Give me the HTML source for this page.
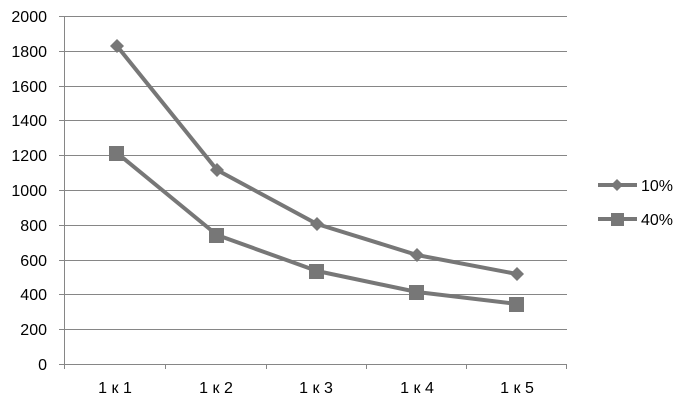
<!DOCTYPE html>
<html><head><style>body{margin:0;background:#fff}svg{display:block;font-family:"Liberation Sans",sans-serif}</style></head>
<body>
<svg width="685" height="403" viewBox="0 0 685 403">
<g stroke="#868686" stroke-width="1">
<line x1="59" y1="16.5" x2="567" y2="16.5"/>
<line x1="59" y1="51.5" x2="567" y2="51.5"/>
<line x1="59" y1="86.5" x2="567" y2="86.5"/>
<line x1="59" y1="120.5" x2="567" y2="120.5"/>
<line x1="59" y1="155.5" x2="567" y2="155.5"/>
<line x1="59" y1="190.5" x2="567" y2="190.5"/>
<line x1="59" y1="225.5" x2="567" y2="225.5"/>
<line x1="59" y1="260.5" x2="567" y2="260.5"/>
<line x1="59" y1="294.5" x2="567" y2="294.5"/>
<line x1="59" y1="329.5" x2="567" y2="329.5"/>
<line x1="59" y1="364.5" x2="567" y2="364.5"/>
<line x1="64.5" y1="16" x2="64.5" y2="369"/>
<line x1="165.5" y1="364" x2="165.5" y2="369"/>
<line x1="266.5" y1="364" x2="266.5" y2="369"/>
<line x1="366.5" y1="364" x2="366.5" y2="369"/>
<line x1="466.5" y1="364" x2="466.5" y2="369"/>
<line x1="566.5" y1="364" x2="566.5" y2="369"/>
</g>
<g font-size="16" fill="#000" text-anchor="end">
<text x="47" y="22">2000</text><text x="47" y="57">1800</text><text x="47" y="92">1600</text>
<text x="47" y="126">1400</text><text x="47" y="161">1200</text><text x="47" y="196">1000</text>
<text x="47" y="231">800</text><text x="47" y="266">600</text><text x="47" y="300">400</text>
<text x="47" y="335">200</text><text x="47" y="370">0</text>
</g>
<g font-size="16" fill="#000" text-anchor="middle">
<text x="115" y="393">1 к 1</text><text x="216" y="393">1 к 2</text><text x="316" y="393">1 к 3</text>
<text x="417" y="393">1 к 4</text><text x="517" y="393">1 к 5</text>
</g>
<g stroke="#777" stroke-width="4" fill="none" stroke-linejoin="round">
<polyline points="117,46 217,170 317,224 417,255 517,274"/>
<polyline points="117,153 217,235 317,271 417,292 517,304"/>
<line x1="598" y1="185" x2="637" y2="185"/>
<line x1="598" y1="219" x2="637" y2="219"/>
</g>
<g fill="#777">
<path d="M117,39 l7,7 -7,7 -7,-7z"/><path d="M217,163 l7,7 -7,7 -7,-7z"/>
<path d="M317,217 l7,7 -7,7 -7,-7z"/><path d="M417,248 l7,7 -7,7 -7,-7z"/>
<path d="M517,267 l7,7 -7,7 -7,-7z"/><path d="M617,179 l6,6 -6,6 -6,-6z"/>
<rect x="109" y="146" width="15" height="15"/><rect x="209" y="228" width="15" height="15"/>
<rect x="309" y="264" width="15" height="15"/><rect x="409" y="285" width="15" height="15"/>
<rect x="509" y="297" width="15" height="15"/><rect x="611" y="213" width="13" height="13"/>
</g>
<g font-size="16" fill="#000">
<text x="641" y="191">10%</text><text x="641" y="225">40%</text>
</g>
</svg>
</body></html>
